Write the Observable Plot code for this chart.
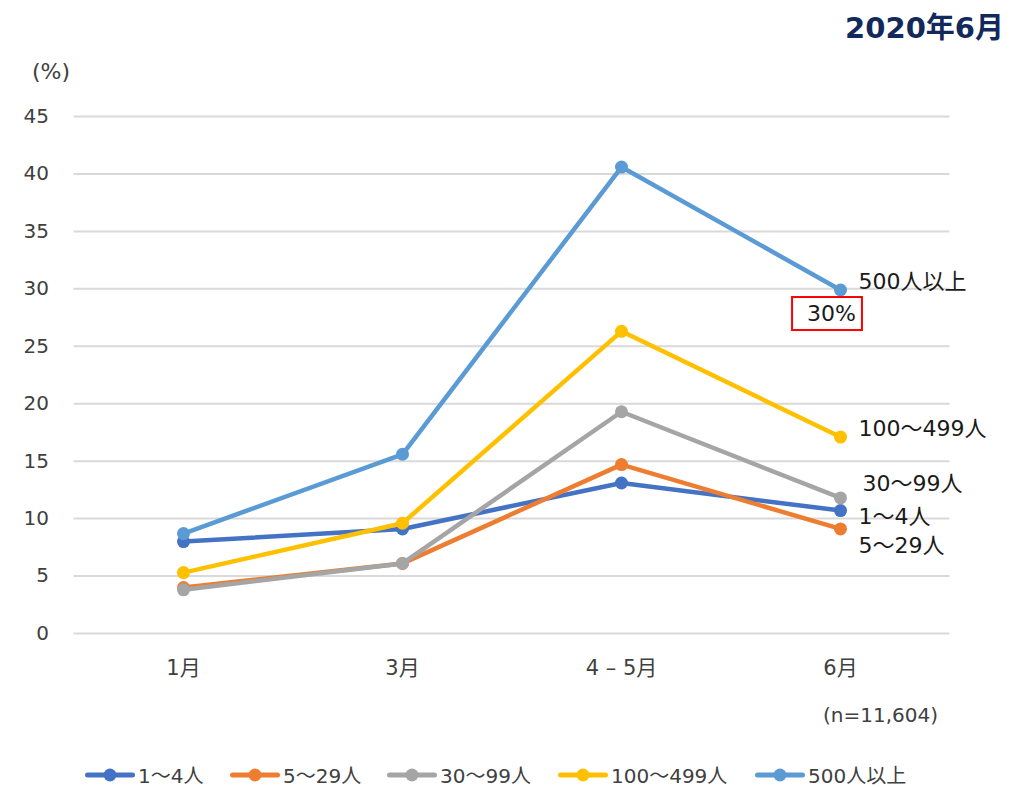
<!DOCTYPE html>
<html>
<head>
<meta charset="utf-8">
<script src="https://cdn.jsdelivr.net/npm/d3@7"></script>
<script src="https://cdn.jsdelivr.net/npm/@observablehq/plot@0.6"></script>
<style>
  html, body { margin: 0; padding: 0; background: #fff; }
  body { width: 1020px; height: 787px; overflow: hidden; font-family: "DejaVu Sans", "Noto Sans CJK JP", sans-serif; }
  #title { height: 50px; position: relative; }
  #title span { position: absolute; right: 16px; top: 4px; font-size: 29px; font-weight: 700; color: #12295c; }
  #chart { height: 690px; }
  #legend { height: 47px; position: relative; font-size: 20px; color: #404040; }
  .item { position: absolute; top: 20px; display: flex; align-items: center; white-space: nowrap; }
  .item svg { margin-right: 3px; }
</style>
</head>
<body>
<div id="title"><span>2020年6月</span></div>
<div id="chart"></div>
<div id="legend"></div>
<script>
// ---- data ----
const months = ["1月", "3月", "4 – 5月", "6月"];
const seriesNames = ["1～4人", "5～29人", "30～99人", "100～499人", "500人以上"];
const legendLabels = ["1～4人", "5～29人", "30～99人", "100～499人", "500人以上"];
const v1to4 = [8.0, 9.1, 13.1, 10.7];
const v5to29 = [4.0, 6.1, 14.7, 9.1];
const v30to99 = [3.8, 6.1, 19.3, 11.8];
const v100to499 = [5.3, 9.6, 26.3, 17.1];
const v500plus = [8.7, 15.6, 40.6, 29.9];
const yTicks = [0, 5, 10, 15, 20, 25, 30, 35, 40, 45];
const highlightLabel = "30%";
const nLabel = "(n=11,604)";
const unitLabel = "(%)";

// ---- styles ----
const colors = ["#4472C4", "#ED7D31", "#A5A5A5", "#FFC000", "#5B9BD5"];
const endLabelOffsets = [
  {dx: 18, dy: 6},
  {dx: 18, dy: 17},
  {dx: 22, dy: -14},
  {dx: 18, dy: -8},
  {dx: 18, dy: -8}
];
const legendX = [85, 230, 387, 558, 755];

const valueSets = [v1to4, v5to29, v30to99, v100to499, v500plus];
const data = [];
valueSets.forEach((vals, si) => vals.forEach((v, mi) => data.push({series: seriesNames[si], si, month: months[mi], value: v})));

const font = "'DejaVu Sans', 'Noto Sans CJK JP', sans-serif";
const marks = [
  Plot.ruleY(yTicks, {stroke: "#d9d9d9", strokeWidth: 2}),
  Plot.axisY({ticks: yTicks, tickSize: 0, tickPadding: 25, fontSize: 20, fill: "#404040", label: null, tickFormat: d => String(d)}),
  Plot.axisX({tickSize: 0, tickPadding: 27, fontSize: 21, fill: "#404040", label: null})
];
seriesNames.forEach((name, si) => {
  const d = data.filter(r => r.si === si);
  marks.push(Plot.line(d, {x: "month", y: "value", stroke: colors[si], strokeWidth: 4.5, strokeLinejoin: "round"}));
  marks.push(Plot.dot(d, {x: "month", y: "value", r: 6.5, fill: colors[si], stroke: "none"}));
});
seriesNames.forEach((name, si) => {
  const last = data.filter(r => r.si === si && r.month === months[months.length - 1]);
  marks.push(Plot.text(last, {x: "month", y: "value", text: "series", textAnchor: "start",
    dx: endLabelOffsets[si].dx, dy: endLabelOffsets[si].dy, fontSize: 22, fill: "#1a1a1a"}));
});
const lastTop = data.filter(r => r.si === 4 && r.month === months[months.length - 1]);
marks.push(Plot.text(lastTop, {x: "month", y: "value", text: () => highlightLabel, dx: -9, dy: 24, fontSize: 22, fill: "#1a1a1a", className: "hl"}));
marks.push(Plot.text([unitLabel], {frameAnchor: "top-left", dx: -42, dy: -53, fontSize: 22, fill: "#404040"}));
marks.push(Plot.text([nLabel], {frameAnchor: "bottom-right", textAnchor: "end", dx: -12, dy: 88, fontSize: 20, fill: "#404040"}));

const chart = Plot.plot({
  width: 1020,
  height: 690,
  marginLeft: 73.5,
  marginRight: 70.5,
  marginTop: 66,
  marginBottom: 107,
  x: {type: "point", domain: months, padding: 0.5},
  y: {domain: [0, 45]},
  style: {fontFamily: font, color: "#404040", background: "#fff", overflow: "visible"},
  marks
});
document.getElementById("chart").appendChild(chart);

// red box around highlight label
const hl = chart.querySelector("g.hl text");
if (hl) {
  const b = hl.getBBox();
  const rect = document.createElementNS("http://www.w3.org/2000/svg", "rect");
  rect.setAttribute("x", b.x - 15);
  rect.setAttribute("y", b.y - 4);
  rect.setAttribute("width", b.width + 21);
  rect.setAttribute("height", b.height + 8);
  rect.setAttribute("fill", "none");
  rect.setAttribute("stroke", "#ff0000");
  rect.setAttribute("stroke-width", 2);
  const t = hl.getAttribute("transform");
  if (t) rect.setAttribute("transform", t);
  hl.parentNode.appendChild(rect);
}

// legend
const legend = document.getElementById("legend");
legendLabels.forEach((lab, i) => {
  const item = document.createElement("div");
  item.className = "item";
  item.style.left = legendX[i] + "px";
  item.innerHTML = `<svg width="50" height="16"><line x1="2.5" y1="8" x2="47.5" y2="8" stroke="${colors[i]}" stroke-width="5" stroke-linecap="round"/><circle cx="25" cy="8" r="6.5" fill="${colors[i]}"/></svg><span>${lab}</span>`;
  legend.appendChild(item);
});
</script>
</body>
</html>
